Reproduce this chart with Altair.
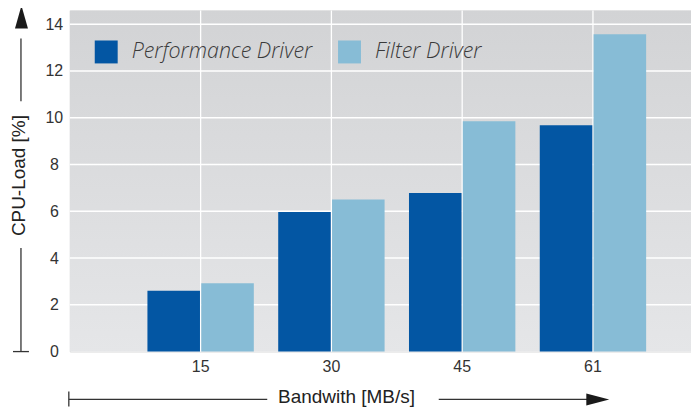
import altair as alt
import pandas as pd

# ---- data ----
bandwidth = ["15", "30", "45", "61"]
series = ["Performance Driver", "Filter Driver"]
performance_driver = [2.6, 5.97, 6.78, 9.68]
filter_driver = [2.92, 6.5, 9.85, 13.57]
y_ticks = [0, 2, 4, 6, 8, 10, 12, 14]
colors = ["#0356a3", "#87bcd6"]

rows = []
for b, p, f in zip(bandwidth, performance_driver, filter_driver):
    rows.append({"bw": b, "series": series[0], "value": p})
    rows.append({"bw": b, "series": series[1], "value": f})
df = pd.DataFrame(rows)

W, H = 623, 342
FONT = "Liberation Sans"

xscale = alt.Scale(domain=bandwidth, paddingInner=0, paddingOuter=0.375, align=0.667)
yscale = alt.Scale(domain=[0, 14.58], nice=False)

xaxis = alt.Axis(title="Bandwith [MB/s]", labelAngle=0, labelPadding=15,
                 labelBaseline="middle", labelFontSize=16, labelFont=FONT,
                 labelColor="#333333", domain=False, ticks=False, grid=False,
                 titleX=277, titleY=45, titleAlign="center", titleBaseline="middle",
                 titleFontSize=19, titleFont=FONT, titleFontWeight="normal",
                 titleColor="#222222")
yaxis = alt.Axis(title="CPU-Load [%]", values=y_ticks, labelAlign="center",
                 labelPadding=16, labelBaseline="middle", labelFontSize=16,
                 labelFont=FONT, labelColor="#333333", domain=False, ticks=False,
                 tickSize=0, grid=False, titleAngle=270, titleX=-51, titleY=165,
                 titleAlign="center", titleBaseline="middle", titleFontSize=19,
                 titleFont=FONT, titleFontWeight="normal", titleColor="#222222")

# background gradient
bg = alt.Chart(alt.Data(values=[{"d": 0}])).mark_rect(
    color=alt.LinearGradient(
        gradient="linear", x1=0, y1=0, x2=0, y2=1,
        stops=[alt.GradientStop(offset=0, color="#d2d3d5"),
               alt.GradientStop(offset=1, color="#e5e6e8")],
    )
).encode(x=alt.value(0), x2=alt.value(W), y=alt.value(0), y2=alt.value(H))

# gridlines
ygrid = alt.Chart(pd.DataFrame({"value": y_ticks[1:]})).mark_rule(
    color="white", strokeWidth=1.5
).encode(y=alt.Y("value:Q", scale=yscale, axis=yaxis), x=alt.value(0), x2=alt.value(W))

xgrid = alt.Chart(pd.DataFrame({"bw": bandwidth})).mark_rule(
    color="white", strokeWidth=1.3
).encode(x=alt.X("bw:N", scale=xscale, sort=bandwidth, bandPosition=0.5, axis=xaxis),
         y=alt.value(0), y2=alt.value(H))

bars = alt.Chart(df).mark_bar().encode(
    x=alt.X("bw:N", scale=xscale, sort=bandwidth, axis=xaxis),
    xOffset=alt.XOffset("series:N", sort=series,
                        scale=alt.Scale(domain=series, paddingInner=0.024, paddingOuter=0.2265)),
    y=alt.Y("value:Q", scale=yscale, axis=yaxis),
    color=alt.Color("series:N", sort=series,
                    scale=alt.Scale(domain=series, range=colors),
                    legend=alt.Legend(title=None, orient="none", legendX=25, legendY=30,
                                      direction="horizontal", symbolType="square",
                                      symbolSize=529, symbolStrokeWidth=0, symbolOpacity=1,
                                      labelFont="Open Sans", labelFontSize=21.5,
                                      labelFontStyle="italic", labelFontWeight=300,
                                      labelColor="#3a3a3a", labelOffset=14, labelLimit=400,
                                      columnPadding=25, padding=0)),
)

one = alt.Data(values=[{"d": 0}])
LINE = "#333333"
y_up = alt.Chart(one).mark_rule(color=LINE, strokeWidth=1.3).encode(
    x=alt.value(-49), y=alt.value(28), y2=alt.value(91))
y_low = alt.Chart(one).mark_rule(color=LINE, strokeWidth=1.3).encode(
    x=alt.value(-49), y=alt.value(238), y2=alt.value(342))
y_cap = alt.Chart(one).mark_rule(color=LINE, strokeWidth=1.3).encode(
    x=alt.value(-57), x2=alt.value(-41), y=alt.value(342))
y_head = alt.Chart(one).mark_point(
    shape="M0,-1L0.565,1L-0.565,1Z", filled=True, color="#1a1a1a", size=529,
    opacity=1, strokeWidth=0).encode(x=alt.value(-48.5), y=alt.value(6.5))

x_left = alt.Chart(one).mark_rule(color=LINE, strokeWidth=1.3).encode(
    x=alt.value(-1), x2=alt.value(198), y=alt.value(390))
x_cap = alt.Chart(one).mark_rule(color=LINE, strokeWidth=1.3).encode(
    x=alt.value(-1), y=alt.value(382), y2=alt.value(397))
x_right = alt.Chart(one).mark_rule(color=LINE, strokeWidth=1.3).encode(
    x=alt.value(370), x2=alt.value(520), y=alt.value(390))
x_head = alt.Chart(one).mark_point(
    shape="M1,0L-1,0.52L-1,-0.52Z", filled=True, color="#1a1a1a", size=529,
    opacity=1, strokeWidth=0).encode(x=alt.value(529.5), y=alt.value(390))

chart = alt.layer(
    bg, ygrid, xgrid, bars, y_up, y_low, y_cap, y_head, x_left, x_cap, x_right, x_head
).properties(
    width=W, height=H,
    autosize=alt.AutoSizeParams(type="none"),
    padding={"left": 62, "top": 2, "right": 0, "bottom": 55},
).configure_view(stroke=None).configure(background="white")

chart.save("out.html", embed_options={"renderer": "svg", "actions": False})
